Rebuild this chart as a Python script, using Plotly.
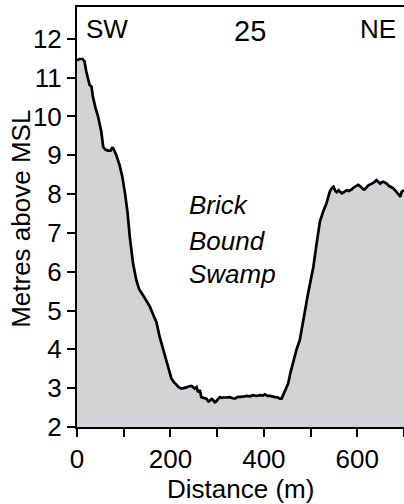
import plotly.graph_objects as go

distance_m = [0, 5, 12, 16, 20, 24, 27, 31, 34, 40, 45, 52, 56, 60, 66, 72, 76, 80, 84, 91,
              97, 103, 108, 113, 120, 127, 133, 140, 148, 156, 163, 170, 177, 183, 188, 195,
              202, 208, 213, 218, 224, 230, 234, 240, 245, 249, 252, 256, 259, 263, 266, 271,
              277, 281, 284, 288, 291, 295, 298, 302, 306, 310, 313, 320, 327, 333, 338, 343,
              349, 356, 363, 370, 377, 384, 392, 398, 402, 408, 413, 418, 424, 430, 434, 438,
              442, 445, 449, 452, 457, 463, 470, 477, 483, 488, 494, 499, 506, 513, 520, 527,
              534, 541, 545, 549, 553, 556, 560, 563, 567, 570, 574, 577, 582, 588, 592, 595,
              599, 602, 606, 609, 613, 616, 620, 624, 628, 631, 636, 641, 645, 649, 652, 656,
              660, 663, 667, 670, 674, 677, 681, 684, 688, 692, 695, 700]
elevation_m = [11.45, 11.48, 11.48, 11.42, 11.15, 10.94, 10.81, 10.77, 10.51, 10.2, 10.0, 9.61,
               9.22, 9.15, 9.12, 9.12, 9.21, 9.12, 9.01, 8.75, 8.45, 8.0, 7.55, 6.9, 6.21, 5.78,
               5.55, 5.42, 5.25, 5.10, 4.90, 4.7, 4.32, 4.05, 3.81, 3.5, 3.25, 3.15, 3.08, 3.02,
               2.99, 3.0, 3.02, 3.05, 3.06, 3.02, 2.99, 3.03, 2.90, 2.95, 2.77, 2.75, 2.73, 2.66,
               2.67, 2.72, 2.70, 2.64, 2.66, 2.72, 2.77, 2.75, 2.76, 2.76, 2.77, 2.74, 2.73, 2.77,
               2.77, 2.78, 2.80, 2.79, 2.82, 2.80, 2.82, 2.81, 2.84, 2.80, 2.80, 2.78, 2.77, 2.76,
               2.73, 2.73, 2.85, 2.95, 3.05, 3.12, 3.4, 3.68, 4.0, 4.24, 4.65, 5.10, 5.40, 5.70,
               6.13, 6.73, 7.29, 7.55, 7.76, 8.06, 8.15, 8.19, 8.08, 8.05, 8.1, 8.06, 8.02, 8.04,
               8.08, 8.10, 8.08, 8.12, 8.17, 8.19, 8.22, 8.24, 8.2, 8.17, 8.12, 8.12, 8.18, 8.23,
               8.25, 8.27, 8.3, 8.36, 8.3, 8.27, 8.3, 8.32, 8.29, 8.27, 8.22, 8.19, 8.17, 8.15,
               8.1, 8.06, 8.0, 7.93, 8.06, 8.1]

x_tick_labels = [0, 200, 400, 600]
y_tick_values = [2, 3, 4, 5, 6, 7, 8, 9, 10, 11, 12]
swamp_label = ["Brick", "Bound", "Swamp"]

FONT = "Liberation Sans, Arial, sans-serif"
FS = 26

fig = go.Figure()
fig.add_trace(go.Scatter(
    x=distance_m, y=elevation_m, mode="lines",
    line=dict(color="black", width=2.7),
    fill="tozeroy", fillcolor="#d2d3d5",
    showlegend=False, hoverinfo="skip",
))

annotations = [
    dict(x=64, y=12.26, text="SW", showarrow=False, font=dict(size=FS)),
    dict(x=370, y=12.2, text="25", showarrow=False, font=dict(size=29)),
    dict(x=645, y=12.26, text="NE", showarrow=False, font=dict(size=FS)),
    dict(xref="paper", yref="paper", x=0.5, y=-0.147, xanchor="center", yanchor="middle",
         text="Distance (m)", showarrow=False, font=dict(size=FS)),
    dict(xref="paper", yref="paper", x=-0.172, y=0.495, xanchor="center", yanchor="middle",
         text="Metres above MSL", textangle=-90, showarrow=False, font=dict(size=FS)),
]
for t, yv in zip(swamp_label, [7.72, 6.79, 5.94]):
    annotations.append(dict(x=235, y=yv, text="<i>%s</i>" % t, showarrow=False,
                            xanchor="left", font=dict(size=FS)))

fig.update_layout(
    width=404, height=504,
    margin=dict(l=77, r=0, t=7, b=77),
    paper_bgcolor="white", plot_bgcolor="white",
    font=dict(family=FONT, color="black", size=FS),
    annotations=annotations,
    xaxis=dict(
        range=[0, 700], tickvals=x_tick_labels, ticks="outside", ticklen=8, tickwidth=2,
        tickcolor="black", showline=True, linecolor="black", linewidth=2, mirror=True,
        showgrid=False, zeroline=False, tickfont=dict(size=FS),
        minor=dict(dtick=100, tick0=0, ticks="outside", ticklen=8, tickwidth=2, tickcolor="black", showgrid=False),
    ),
    yaxis=dict(
        range=[2, 12.82], tickvals=y_tick_values, ticks="outside", ticklen=8, tickwidth=2,
        tickcolor="black", showline=True, linecolor="black", linewidth=2,
        showgrid=False, zeroline=False, tickfont=dict(size=FS),
    ),
)

fig.write_html("out.html")
